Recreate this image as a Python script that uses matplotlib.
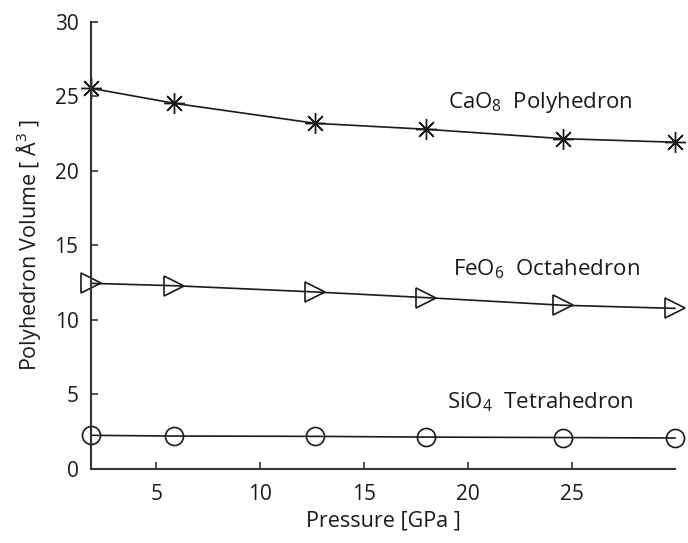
import matplotlib
matplotlib.use("Agg")
import matplotlib.pyplot as plt

plt.rcParams['font.family'] = ['Open Sans', 'DejaVu Sans']
plt.rcParams['mathtext.fontset'] = 'custom'
plt.rcParams['mathtext.rm'] = 'Open Sans'
plt.rcParams['mathtext.it'] = 'Open Sans'
plt.rcParams['mathtext.default'] = 'rm'

# Pressure [GPa] and polyhedron volumes [Å^3]
pressure = [1.86, 5.87, 12.64, 17.98, 24.53, 29.93]
cao8_volume = [25.55, 24.54, 23.20, 22.80, 22.17, 21.93]
feo6_volume = [12.46, 12.30, 11.88, 11.50, 10.99, 10.78]
sio4_volume = [2.26, 2.21, 2.19, 2.14, 2.11, 2.08]

x_ticks = [5, 10, 15, 20, 25]
y_ticks = [0, 5, 10, 15, 20, 25, 30]

ink = '#1a1a1a'
axis_color = '#333333'

fig = plt.figure(figsize=(6.88, 5.43), dpi=100)
ax = fig.add_axes([0.1323, 0.1363, 0.8487, 0.8232])

ax.plot(pressure, cao8_volume, color=ink, lw=1.2,
        marker=(8, 2, 0), ms=15, mew=1.0, mec=ink, clip_on=False)
ax.plot(pressure, feo6_volume, color=ink, lw=1.2,
        marker='>', ms=14, mew=1.2, mfc='none', mec=ink, clip_on=False)
ax.plot(pressure, sio4_volume, color=ink, lw=1.2,
        marker='o', ms=13, mew=1.2, mfc='none', mec=ink, clip_on=False)

label_size = 16
ax.text(19.0, 24.6, r'CaO$_{8}$  Polyhedron', fontsize=label_size, color=ink,
        ha='left', va='center')
ax.text(19.25, 13.4, r'FeO$_{6}$  Octahedron', fontsize=label_size, color=ink,
        ha='left', va='center')
ax.text(18.95, 4.45, r'SiO$_{4}$  Tetrahedron', fontsize=label_size, color=ink,
        ha='left', va='center')

ax.set_xlim(pressure[0], pressure[-1])
ax.set_ylim(0, 30)
ax.set_xticks(x_ticks)
ax.set_yticks(y_ticks)
ax.tick_params(direction='in', length=5, width=1.2, color=axis_color,
               labelsize=15, labelcolor=ink)
ax.tick_params(axis='x', pad=11)
ax.tick_params(axis='y', pad=9)

for side in ('top', 'right'):
    ax.spines[side].set_visible(False)
for side in ('left', 'bottom'):
    ax.spines[side].set_color(axis_color)
    ax.spines[side].set_linewidth(1.5)

ax.set_xlabel('Pressure [GPa ]', fontsize=15.5, color=ink, labelpad=4)
ax.set_ylabel(r'Polyhedron Volume [ Å$^{3}$ ]', fontsize=15.5, color=ink,
              labelpad=8)

fig.savefig('out.png', dpi=100)
